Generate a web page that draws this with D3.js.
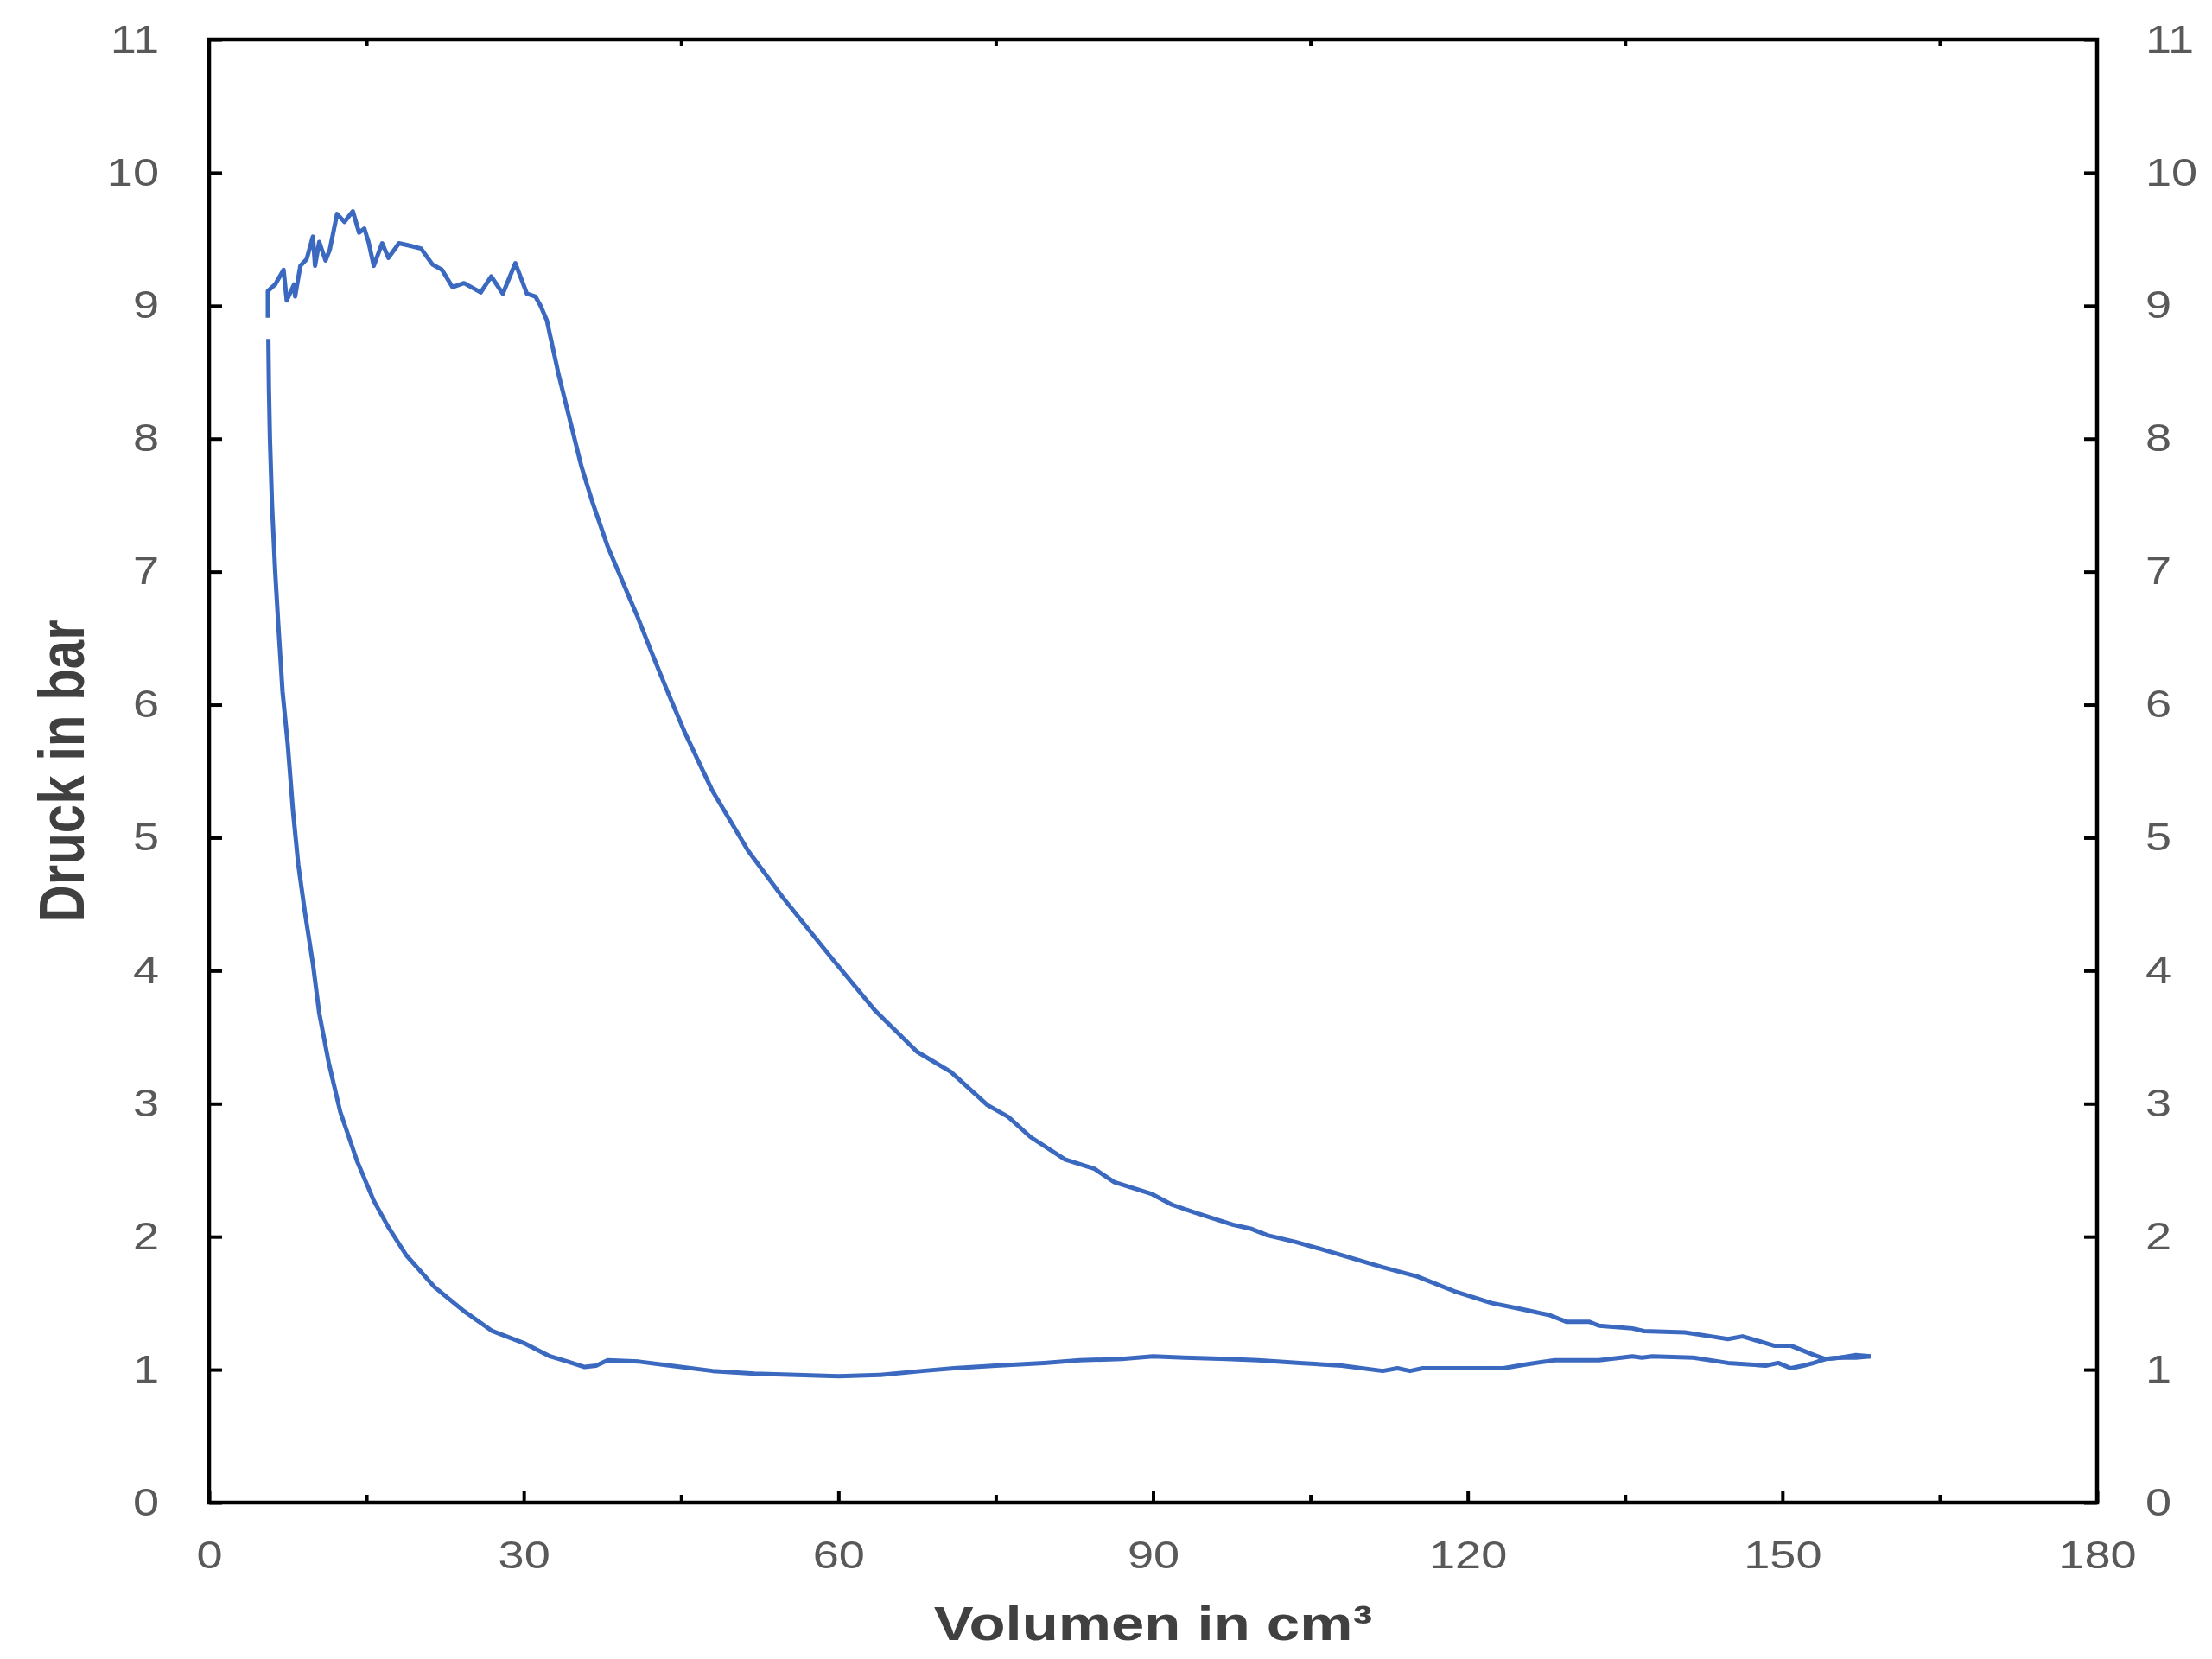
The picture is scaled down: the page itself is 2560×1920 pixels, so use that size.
<!DOCTYPE html>
<html><head><meta charset="utf-8">
<script src="https://cdn.jsdelivr.net/npm/d3@7"></script>
<style>body{margin:0;background:#fff} svg{display:block}</style>
</head><body><svg id="c" width="2560" height="1920"></svg>
<script>
// ---- data ----
const xTicks = [0, 30, 60, 90, 120, 150, 180];
const xMinorTicks = [15, 45, 75, 105, 135, 165];
const yTicks = [0, 1, 2, 3, 4, 5, 6, 7, 8, 9, 10, 11];
const xTitle = "Volumen in cm³";
const yTitle = "Druck in bar";

// lower branch (intake + compression), from right end to top-left
const compressionV = [158.4,157,155.5,154.1,153,152,150.8,149.6,148.4,144.8,141.5,137.6,136.6,135.7,132.5,128.3,125.6,123.4,115.7,114.5,113.3,111.9,108,104,100,97,93,90,87,83,79.6,75,71,68,64,60,56,52,48,44,41,38,36.9,35.8,34.2,32.5,30.0,27.0,24.3,21.5,18.8,17.1,15.7,14.1,12.5,11.4,10.5,9.9,9.15,8.5,8.0,7.5,7.0,6.6,6.3,6.0,5.8,5.7,5.65];
const compressionP = [1.10,1.09,1.09,1.08,1.05,1.03,1.01,1.05,1.03,1.05,1.09,1.10,1.09,1.10,1.07,1.07,1.04,1.01,1.01,0.99,1.01,0.99,1.03,1.05,1.07,1.08,1.09,1.10,1.08,1.07,1.05,1.03,1.01,0.99,0.96,0.95,0.96,0.97,0.99,1.03,1.06,1.07,1.03,1.02,1.06,1.10,1.20,1.29,1.44,1.62,1.86,2.07,2.27,2.57,2.94,3.31,3.68,4.05,4.43,4.80,5.20,5.70,6.10,6.60,7.00,7.50,8.00,8.40,8.75];

// upper branch (combustion + expansion), from top-left to right end
const expansionV = [5.6,5.6,6.3,7.1,7.4,8.1,8.2,8.7,9.3,9.9,10.1,10.5,11.1,11.5,12.2,12.9,13.7,14.3,14.8,15.2,15.7,16.5,17.1,18.1,19.2,20.2,21.3,22.2,23.2,24.3,25.9,26.9,28.0,29.2,30.3,31.1,31.6,32.2,33.3,34.4,35.5,36.6,38.0,39.4,40.8,42.1,43.7,45.3,48.0,51.4,54.7,59.5,63.5,67.5,70.7,74.2,76.2,78.3,81.6,84.4,86.3,89.9,91.8,94.0,97.6,99.3,100.9,103.6,106.3,111.9,115.2,118.7,122.3,124.8,127.8,129.4,131.6,132.5,135.7,136.8,140.7,143.2,144.8,146.2,147.5,149.2,150.8,153,154.1,155.5,157,158.4];
const expansionP = [8.91,9.11,9.16,9.27,9.04,9.16,9.07,9.30,9.35,9.52,9.30,9.48,9.34,9.42,9.69,9.63,9.71,9.55,9.58,9.48,9.30,9.47,9.36,9.47,9.45,9.43,9.31,9.27,9.14,9.17,9.10,9.22,9.09,9.32,9.09,9.07,9.00,8.89,8.49,8.14,7.79,7.51,7.19,6.93,6.67,6.41,6.10,5.80,5.35,4.90,4.55,4.08,3.70,3.39,3.24,2.99,2.90,2.75,2.58,2.51,2.41,2.32,2.24,2.18,2.09,2.06,2.01,1.96,1.90,1.77,1.70,1.59,1.50,1.46,1.41,1.36,1.36,1.33,1.31,1.29,1.28,1.25,1.23,1.25,1.22,1.18,1.18,1.11,1.08,1.09,1.11,1.10];

// ---- layout ----
const M = {left: 242, right: 2427, top: 46, bottom: 1739};
const SX = 1.23; // horizontal text stretch seen in the reference
const FONT = "'Liberation Sans', Arial, Helvetica, sans-serif";
const svg = d3.select("#c");
svg.append("rect").attr("width", 2560).attr("height", 1920).attr("fill", "#fff");

const x = d3.scaleLinear().domain([0, 180]).range([M.left, M.right]);
const y = d3.scaleLinear().domain([0, 11]).range([M.bottom, M.top]);

function styleAxis(g) {
  g.select(".domain").remove();
  g.selectAll(".tick line").attr("stroke", "#000").attr("stroke-width", 4);
  g.selectAll(".tick text")
    .attr("font-family", FONT).attr("font-size", 44).attr("fill", "#595959")
    .each(function() {
      const t = d3.select(this);
      const xv = +t.attr("x") || 0;
      t.attr("x", xv / SX).attr("transform", `scale(${SX},1)`);
    });
}

// left axis
svg.append("g").attr("transform", `translate(${M.left},0)`)
  .call(d3.axisLeft(y).tickValues(yTicks).tickSizeInner(-15).tickSizeOuter(0).tickPadding(58).tickFormat(d3.format("d")))
  .call(g => styleAxis(g));
// right axis
svg.append("g").attr("transform", `translate(${M.right},0)`)
  .call(d3.axisRight(y).tickValues(yTicks).tickSizeInner(-15).tickSizeOuter(0).tickPadding(56).tickFormat(d3.format("d")))
  .call(g => styleAxis(g));
// bottom axis major
svg.append("g").attr("transform", `translate(0,${M.bottom})`)
  .call(d3.axisBottom(x).tickValues(xTicks).tickSizeInner(-13).tickSizeOuter(0).tickPadding(45).tickFormat(d3.format("d")))
  .call(g => styleAxis(g));
// bottom axis minor
svg.append("g").attr("transform", `translate(0,${M.bottom})`)
  .call(d3.axisBottom(x).tickValues(xMinorTicks).tickSizeInner(-9).tickSizeOuter(0).tickFormat(""))
  .call(g => styleAxis(g));
// top axis (small ticks)
svg.append("g").attr("transform", `translate(0,${M.top})`)
  .call(d3.axisTop(x).tickValues(xMinorTicks).tickSizeInner(-7).tickSizeOuter(0).tickFormat(""))
  .call(g => styleAxis(g));

// frame
svg.append("rect").attr("x", M.left).attr("y", M.top)
  .attr("width", M.right - M.left).attr("height", M.bottom - M.top)
  .attr("fill", "none").attr("stroke", "#000").attr("stroke-width", 4.5);

// curves
const line = d3.line().x(d => x(d[0])).y(d => y(d[1]));
const comp = compressionV.map((v, i) => [v, compressionP[i]]);
const exp = expansionV.map((v, i) => [v, expansionP[i]]);
[comp, exp].forEach(data => {
  svg.append("path").datum(data).attr("d", line)
    .attr("fill", "none").attr("stroke", "#3b69c0").attr("stroke-width", 5)
    .attr("stroke-linejoin", "round").attr("stroke-linecap", "butt");
});

// titles
svg.append("text").attr("transform", `translate(${(M.left + M.right) / 2},1898) scale(${SX},1)`)
  .attr("text-anchor", "middle").attr("font-family", FONT).attr("font-weight", "bold")
  .attr("font-size", 56).attr("fill", "#404040").text(xTitle);
svg.append("text").attr("transform", `translate(97,${(M.top + M.bottom) / 2}) scale(${SX},1) rotate(-90)`)
  .attr("text-anchor", "middle").attr("font-family", FONT).attr("font-weight", "bold")
  .attr("font-size", 60).attr("fill", "#404040").text(yTitle);
</script></body></html>
